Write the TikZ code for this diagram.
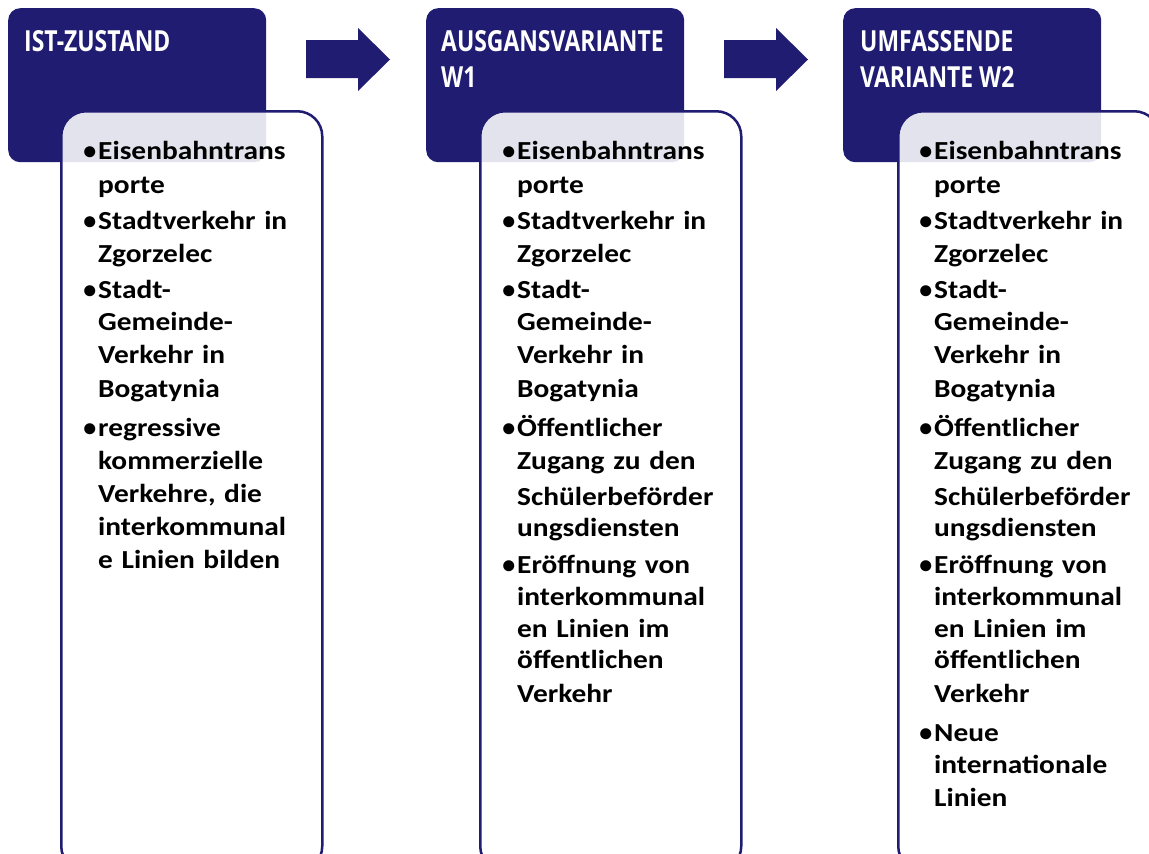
\documentclass[tikz,border=0pt]{standalone}
\usepackage{fontspec}
\setmainfont{Carlito}
\newfontfamily\bodyfont[FakeStretch=1.13]{Carlito}
\newfontfamily\bulfont{Carlito}
\newfontfamily\headfont[FakeStretch=0.79]{Open Sans}
\definecolor{navy}{HTML}{201C71}
\newcommand{\bul}{\leavevmode\llap{{\bulfont •}\hspace{2pt}}}
\newcommand{\firstline}{\leavevmode\rule{0pt}{20pt}}
\newcommand{\bodyA}{%
\firstline\bul Eisenbahntrans\\[1pt]
porte\\[3pt]
\bul Stadtverkehr in\\
Zgorzelec\\[3pt]
\bul Stadt-\\[-1pt]
Gemeinde-\\
Verkehr in\\[1pt]
Bogatynia\\[6pt]}
\begin{document}
\begin{tikzpicture}[x=1pt,y=-1pt,
  head/.style={fill=navy, rounded corners=12pt, minimum width=258pt, minimum height=154pt, anchor=north west, inner sep=0pt},
  headtext/.style={text=white, anchor=north west, inner sep=0pt, align=left, font=\headfont\bfseries\fontsize{29}{36}\selectfont},
  card/.style={draw=navy, line width=2.5pt, fill=white, fill opacity=0.88, rounded corners=25pt, minimum width=261pt, minimum height=760pt, anchor=north west, inner sep=0pt},
  bodytext/.style={text=black, anchor=north west, inner sep=0pt, align=left, text width=240pt, font=\bodyfont\bfseries\fontsize{26}{33}\selectfont},
  blockarrow/.style={fill=navy}
]
\useasboundingbox (0,0) rectangle (1149,854);
\clip (0,0) rectangle (1149,854);
% header boxes
\node[head] (h1) at (8,8) {};
\node[head] (h2) at (426,8) {};
\node[head] (h3) at (843,8) {};
\node[headtext] (ht1) at (24,29) {\rule{0pt}{22pt}IST-ZUSTAND};
\node[headtext] (ht2) at (441,29) {\rule{0pt}{22pt}AUSGANSVARIANTE\\W1};
\node[headtext] (ht3) at (860,29) {\rule{0pt}{22pt}UMFASSENDE\\VARIANTE W2};
% cards
\node[card] (c1) at (60,110) {};
\node[card] (c2) at (479,110) {};
\node[card] (c3) at (897,110) {};
% body texts
\node[bodytext] (b1) at (98,139) {\bodyA
\bul regressive\\
kommerzielle\\
Verkehre, die\\
interkommunal\\
e Linien bilden};
\node[bodytext] (b2) at (517,139) {\bodyA
\bul Öffentlicher\\
Zugang zu den\\[3pt]
Schülerbeförder\\[-2pt]
ungsdiensten\\[4pt]
\bul Eröffnung von\\[-1pt]
interkommunal\\[-1pt]
en Linien im\\[-2pt]
öffentlichen\\[1pt]
Verkehr};
\node[bodytext] (b3) at (934,139) {\bodyA
\bul Öffentlicher\\
Zugang zu den\\[3pt]
Schülerbeförder\\[-2pt]
ungsdiensten\\[4pt]
\bul Eröffnung von\\[-1pt]
interkommunal\\[-1pt]
en Linien im\\[-2pt]
öffentlichen\\[1pt]
Verkehr\\[6pt]
\bul Neue\\[-1pt]
internationale\\
Linien};
% block arrows
\fill[blockarrow] (306,40) -- (358,40) -- (358,28) -- (390,59.5) -- (358,91) -- (358,78) -- (306,78) -- cycle;
\fill[blockarrow] (724,40) -- (776,40) -- (776,28) -- (808,59.5) -- (776,91) -- (776,78) -- (724,78) -- cycle;
\end{tikzpicture}
\end{document}
